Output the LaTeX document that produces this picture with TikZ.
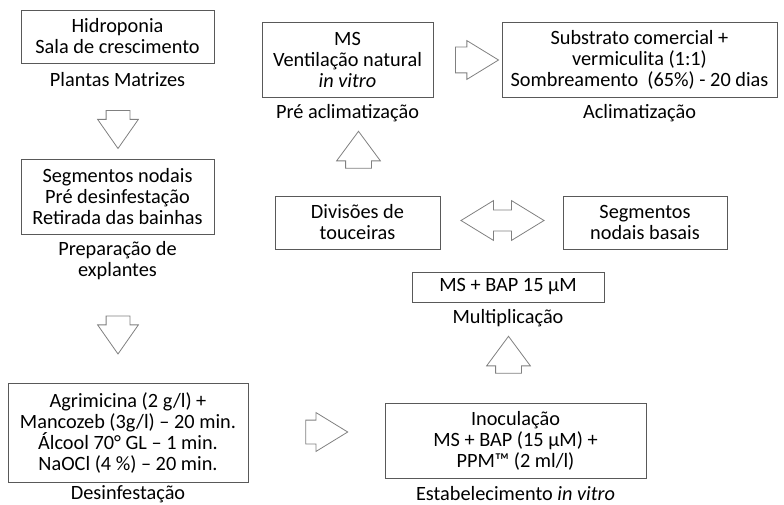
\documentclass[tikz,border=0pt]{standalone}
\usepackage{fontspec}
\setmainfont{Carlito}
\usetikzlibrary{shapes.arrows}
\definecolor{boxgray}{RGB}{89,89,89}
\definecolor{arrowgray}{RGB}{128,128,128}

\begin{document}
\begin{tikzpicture}[
  x=1pt,y=-1pt,font=\fontsize{20.3}{21}\selectfont,
  stage/.style={draw=boxgray,line width=0.9pt,align=center,inner sep=0pt},
  lbl/.style={align=center,inner sep=0pt},
  blockarrow/.style={single arrow,draw=arrowgray,line width=0.8pt,fill=white,inner sep=0pt},
  downarrow/.style={blockarrow,shape border rotate=270,inner xsep=11.5pt,
                    single arrow head extend=8.5pt,single arrow tip angle=70,minimum height=38pt},
  sidearrow/.style={blockarrow,inner ysep=11.5pt,single arrow head extend=7.5pt,
                    single arrow tip angle=63,minimum height=42pt},
  uparrow/.style={blockarrow,shape border rotate=90,inner xsep=12.5pt,single arrow head extend=9pt,
                  single arrow tip angle=73,minimum height=37pt},
  bothways/.style={double arrow,draw=arrowgray,line width=0.8pt,inner xsep=0pt,inner ysep=10pt,
                   double arrow head extend=9.5pt,double arrow tip angle=63,minimum height=83pt}
]
\useasboundingbox (0,0) rectangle (784,505);
% ---------- left column
\node[stage,minimum width=193pt,minimum height=53pt] (hidro) at (117.5,36.5) {Hidroponia\\Sala de crescimento};
\node[lbl] (matriz) at (117.5,80) {Plantas Matrizes};
\node[stage,minimum width=193pt,minimum height=75pt] (segm) at (117.5,196.5)
  {Segmentos nodais\\Pré desinfestação\\Retirada das bainhas};
\node[lbl] (prep) at (117.5,261) {Preparação de\\explantes};
\node[stage,minimum width=240pt,minimum height=99pt] (desinf) at (128,432.5)
  {Agrimicina (2 g/l) +\\Mancozeb (3g/l) – 20 min.\\Álcool 70° GL – 1 min.\\NaOCl (4 \%) – 20 min.};
\node[lbl] (desinflbl) at (128,494.5) {Desinfestação};
% ---------- right part
\node[stage,minimum width=261pt,minimum height=75pt] (inoc) at (515.5,440.5)
  {Inoculação\\MS + BAP (15 µM) +\\PPM™ (2 ml/l)};
\node[lbl] (estab) at (515.5,494) {Estabelecimento \textit{in vitro}};
\node[stage,minimum width=192pt,minimum height=30pt] (bap) at (508,287) {MS + BAP 15 µM};
\node[lbl] (mult) at (508,318) {Multiplicação};
\node[stage,minimum width=165pt,minimum height=53pt] (divis) at (357.5,222.5) {Divisões de\\touceiras};
\node[stage,minimum width=164pt,minimum height=53pt] (basal) at (645,222.5) {Segmentos\\nodais basais};
\node[stage,minimum width=171pt,minimum height=75pt] (venti) at (347.5,59.5)
  {MS\\Ventilação natural\\\textit{in vitro}};
\node[lbl] (preacl) at (347.5,113) {Pré aclimatização};
\node[stage,minimum width=275pt,minimum height=75pt] (subst) at (639.5,59.5)
  {Substrato comercial +\\vermiculita (1:1)\\Sombreamento\ \ (65\%) - 20 dias};
\node[lbl] (acl) at (639.5,113) {Aclimatização};
% ---------- block arrows
\node[downarrow] (a1) at (118,121) {};
\node[downarrow] (a2) at (118,326.5) {};
\node[sidearrow] (a3) at (317,432) {};
\node[uparrow] (a4) at (508.5,363.5) {};
\node[bothways] (a5) at (502.5,220.5) {};
\node[uparrow] (a6) at (358.5,158.5) {};
\node[sidearrow,minimum height=43pt,inner ysep=12.5pt,single arrow head extend=6.5pt] (a7) at (466.5,60) {};
\end{tikzpicture}
\end{document}
